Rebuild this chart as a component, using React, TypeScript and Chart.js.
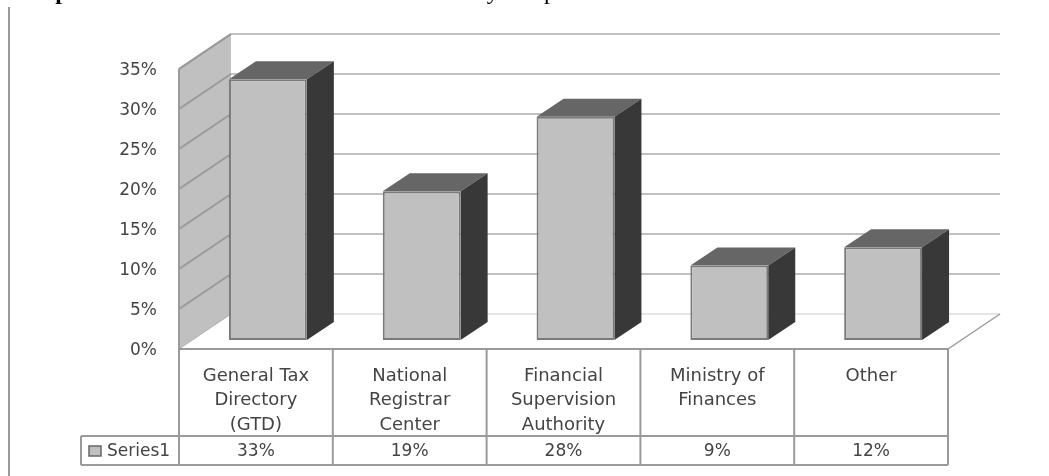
import React, { useEffect, useRef } from "react";
import { Chart, registerables } from "chart.js";

Chart.register(...registerables);

const categories = [
  ["General Tax", "Directory", "(GTD)"],
  ["National", "Registrar", "Center"],
  ["Financial", "Supervision", "Authority"],
  ["Ministry of", "Finances"],
  ["Other"],
];
const seriesName = "Series1";
const seriesValues = [32.6, 18.6, 27.9, 9.3, 11.6];
const yTicks = { min: 0, max: 35, step: 5 };
const titleBold = "Graph 6:";
const titleRest = "Head and institutions that may implement";

const GRID = "#adadad";
const LINE = "#9a9a9a";
const TEXT = "#444444";
const FONT = "'DejaVu Sans'";
const FONT_SIZE = 17;
const CATEGORY_FONT_SIZE = 18;
const WALL = { dx: 52, dy: -35 };
const BAR_PLANE = { dx: 12, dy: -9 };
const BAR_DEPTH = { dx: 27, dy: -18 };
const LABEL_DROP = 2;

const line = (ctx: any, x1: number, y1: number, x2: number, y2: number, color: string, w = 2) => {
  ctx.beginPath();
  ctx.moveTo(x1, y1);
  ctx.lineTo(x2, y2);
  ctx.strokeStyle = color;
  ctx.lineWidth = w;
  ctx.stroke();
};

const poly = (ctx: any, pts: number[][], fill: string) => {
  ctx.beginPath();
  pts.forEach(([x, y], i) => (i ? ctx.lineTo(x, y) : ctx.moveTo(x, y)));
  ctx.closePath();
  ctx.fillStyle = fill;
  ctx.fill();
};

const backdrop = {
  id: "backdrop",
  beforeDatasetsDraw(chart: any) {
    const { ctx, chartArea: a, scales } = chart;
    const y = scales.y;
    ctx.save();
    // page furniture
    ctx.font = "bold 24px 'Liberation Serif'";
    ctx.fillStyle = "#000";
    ctx.textBaseline = "alphabetic";
    ctx.textAlign = "left";
    ctx.fillText(titleBold, 14, -1.5);
    ctx.font = "24px 'Liberation Serif'";
    ctx.letterSpacing = "3.5px";
    ctx.fillText(titleRest, 104, -1.5);
    ctx.letterSpacing = "0px";
    line(ctx, 9, 7, 9, 476, "#999", 2);
    ctx.restore();

    ctx.save();
    ctx.translate(0, -LABEL_DROP);
    // floor
    poly(
      ctx,
      [
        [a.left, a.bottom],
        [a.left + WALL.dx, a.bottom + WALL.dy],
        [a.right + WALL.dx, a.bottom + WALL.dy],
        [a.right, a.bottom],
      ],
      "#ffffff"
    );
    // side wall
    poly(
      ctx,
      [
        [a.left, a.top],
        [a.left + WALL.dx, a.top + WALL.dy],
        [a.left + WALL.dx, a.bottom + WALL.dy],
        [a.left, a.bottom],
      ],
      "#c0c0c0"
    );
    line(ctx, a.left, a.top, a.left, a.bottom, LINE);
    line(ctx, a.left, a.top, a.left + WALL.dx, a.top + WALL.dy, LINE);
    line(ctx, a.left, a.bottom, a.left + WALL.dx, a.bottom + WALL.dy, "#b0b0b0", 1);
    // gridlines across side and back walls
    for (const t of y.ticks) {
      const py = y.getPixelForValue(t.value);
      const onFloor = t.value === yTicks.min;
      if (!onFloor) {
        line(ctx, a.left, py, a.left + WALL.dx, py + WALL.dy, LINE);
      }
      line(
        ctx,
        a.left + WALL.dx,
        py + WALL.dy,
        a.right + WALL.dx,
        py + WALL.dy,
        onFloor ? "#dcdcdc" : GRID,
        1.5
      );
    }
    line(ctx, a.right, a.bottom, a.right + WALL.dx, a.bottom + WALL.dy, LINE, 1.5);
    ctx.restore();

    // bars live on a plane set back from the front of the plot
    ctx.save();
    ctx.translate(BAR_PLANE.dx, BAR_PLANE.dy - LABEL_DROP);
    const meta = chart.getDatasetMeta(0);
    for (const bar of meta.data) {
      const l = bar.x - bar.width / 2;
      const r = bar.x + bar.width / 2;
      const { dx, dy } = BAR_DEPTH;
      poly(ctx, [[l, bar.y], [l + dx, bar.y + dy], [r + dx, bar.y + dy], [r, bar.y]], "#666666");
      poly(ctx, [[r, bar.y], [r + dx, bar.y + dy], [r + dx, bar.base + dy], [r, bar.base]], "#383838");
    }
  },
  afterDatasetsDraw(chart: any) {
    chart.ctx.restore();
  },
};

const dataTable = {
  id: "dataTable",
  afterDraw(chart: any) {
    const { ctx, chartArea: a, scales } = chart;
    const x = scales.x;
    const rowTop = 436;
    const rowBottom = 465;
    const legendLeft = 81;
    const top = a.bottom - LABEL_DROP;
    const cell = (x.getPixelForValue(1) - x.getPixelForValue(0)) / 2;
    ctx.save();
    line(ctx, a.left, top, a.right, top, LINE);
    line(ctx, legendLeft, rowTop, a.right, rowTop, LINE);
    line(ctx, legendLeft, rowBottom, a.right, rowBottom, LINE);
    line(ctx, legendLeft, rowTop, legendLeft, rowBottom, LINE);
    line(ctx, a.left, top, a.left, rowBottom, LINE);
    categories.forEach((_, i) => {
      const c = x.getPixelForValue(i);
      line(ctx, c + cell, top, c + cell, rowBottom, LINE);
    });
    ctx.font = `${FONT_SIZE}px ${FONT}`;
    ctx.fillStyle = TEXT;
    ctx.textBaseline = "middle";
    ctx.textAlign = "center";
    seriesValues.forEach((v, i) => {
      ctx.fillText(`${Math.round(v)}%`, x.getPixelForValue(i), rowTop + 16);
    });
    ctx.textAlign = "left";
    ctx.fillText(seriesName, 107, rowTop + 16);
    ctx.fillStyle = "#c0c0c0";
    ctx.strokeStyle = "#666";
    ctx.lineWidth = 1.5;
    ctx.fillRect(89, 446, 12, 10);
    ctx.strokeRect(89, 446, 12, 10);
    ctx.restore();
  },
};

export default function App() {
  const ref = useRef<HTMLCanvasElement>(null);
  useEffect(() => {
    const chart = new Chart(ref.current!, {
      type: "bar",
      data: {
        labels: categories,
        datasets: [
          {
            label: seriesName,
            data: seriesValues,
            backgroundColor: "#c0c0c0",
            borderColor: "#7a7a7a",
            borderWidth: 2,
            borderSkipped: false,
            categoryPercentage: 1,
            barPercentage: 78 / 154,
            clip: false,
          } as any,
        ],
      },
      options: {
        animation: false,
        responsive: false,
        events: [],
        layout: { autoPadding: false, padding: { top: 69 + LABEL_DROP, right: 101, left: 0, bottom: 0 } },
        plugins: { legend: { display: false }, title: { display: false }, tooltip: { enabled: false } },
        scales: {
          x: {
            border: { display: false },
            grid: { display: false },
            afterFit: (s: any) => { s.height = 127 - LABEL_DROP; },
            ticks: {
              padding: 5,
              maxRotation: 0,
              autoSkip: false,
              color: TEXT,
              font: { family: FONT, size: CATEGORY_FONT_SIZE, lineHeight: 1.36 },
            },
          },
          y: {
            min: yTicks.min,
            max: yTicks.max,
            border: { display: false },
            grid: { display: false, drawTicks: false },
            afterFit: (s: any) => { s.width = 179; },
            ticks: {
              stepSize: yTicks.step,
              padding: 22,
              color: TEXT,
              font: { family: FONT, size: FONT_SIZE },
              callback: (v: any) => `${v}%`,
            },
          },
        },
      },
      plugins: [backdrop, dataTable],
    });
    return () => chart.destroy();
  }, []);
  return (
    <div style={{ position: "absolute", left: 0, top: 0, width: 1049, height: 476, background: "#fff" }}>
      <canvas ref={ref} width={1049} height={476} style={{ display: "block" }} />
    </div>
  );
}
